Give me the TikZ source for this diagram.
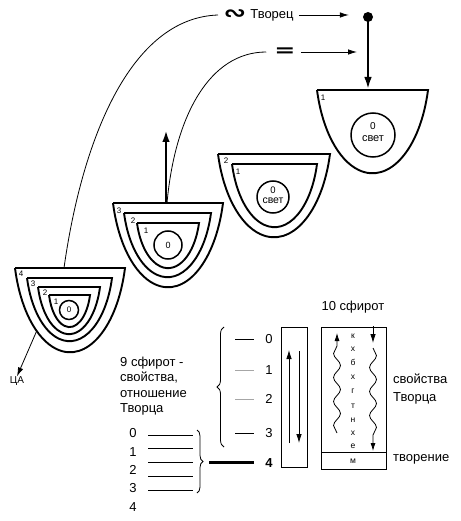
\documentclass[tikz,border=0pt]{standalone}
\usepackage{fontspec}
\setmainfont{Liberation Sans}
\newfontfamily\djv{DejaVu Sans}
\usetikzlibrary{arrows.meta,decorations.pathmorphing,decorations.pathreplacing}
% bowl: centre x, top y, half width, depth (segment of an ellipse whose centre lies a little above the rim)
\newcommand\vesselcup[4]{%
  \draw[vesselline] ({#1-#3},#2) -- ({#1+#3},#2)
    arc[start angle=-13.9,end angle=-166.1,x radius={1.0302*#3pt},y radius={1.32*#4pt}] -- cycle;}
\begin{document}
\begin{tikzpicture}[x=1pt,y=-1pt,
  vesselline/.style={line width=1.9pt, fill=white},
  core/.style={draw, line width=1.5pt, fill=white, circle, inner sep=0pt},
  thinline/.style={line width=0.8pt},
  tarrow/.style={line width=0.8pt, -{Latex[length=9pt,width=5.5pt]}},
  barrow/.style={line width=2.6pt, -{Latex[length=12pt,width=7.5pt]}},
  lbl/.style={inner sep=0pt, font=\fontsize{13}{15}\selectfont},
  num/.style={inner sep=0pt, font=\fontsize{8}{9}\selectfont},
  letter/.style={inner sep=0pt, font=\fontsize{8.5}{9}\selectfont},
  wave/.style={line width=0.8pt, decorate, decoration={snake, amplitude=3.5pt, segment length=24pt, post length=7pt}, -{Latex[length=8pt,width=5pt]}},
  tick/.style={line width=0.8pt}
]
\useasboundingbox (0,0) rectangle (460,521);

% top labels
\node[inner sep=0pt, font=\djv\bfseries\fontsize{22}{22}\selectfont] (tl) at (235,15) {\scalebox{1.2}[1]{∾}};
\node[lbl] (tv) at (272,15) {Творец};
\fill (368,17) circle (5pt);
\coordinate (dot) at (368,17);
\draw[tarrow] (tv.east) ++(5,0) -- ++(50,0) coordinate (tvend);
\node[inner sep=0pt, font=\djv\bfseries\fontsize{18}{18}\selectfont] (eq) at (285,52) {\scalebox{1.4}[1]{=}};
\coordinate (eqend) at (357,52);
\draw[tarrow] ([xshift=5pt]eq.east) -- (eqend);

\coordinate (v1top) at (368,90);
\coordinate (v3top) at (167,203);
\coordinate (v3up) at (166,130);
\coordinate (v4top) at (64,268);
\node[inner sep=0pt, font=\fontsize{10}{10}\selectfont] (ca) at (17,381) {ЦА};

% connectors behind vessels
\draw[tarrow] (218,15) .. controls (130,18) and (82,140) .. (v4top) -- (ca.north);
\draw[thinline] ([xshift=-8pt]eq.west) .. controls (210,52) and (175,115) .. (v3top);

% vessel 1
\vesselcup{372.5}{90}{55.5}{83}
\node[core, minimum size=44pt] (c1) at (373,135) {};
\node[num, font=\fontsize{10}{10}\selectfont] at (373,126) {0};
\node[num, font=\fontsize{11}{11}\selectfont] at (373,139) {свет};
\node[num] at (323,98) {1};

% vessel 2
\vesselcup{274}{154}{56}{83}
\vesselcup{274.5}{164}{42.5}{63}
\node[core, minimum size=32pt] (c2) at (273,197) {};
\node[num, font=\fontsize{9.5}{10}\selectfont] at (273,190) {0};
\node[num, font=\fontsize{10.5}{11}\selectfont] at (273,201) {свет};
\node[num] at (226,161) {2};
\node[num] at (238,172) {1};

% vessel 3
\vesselcup{168}{203}{55}{84}
\vesselcup{167.5}{213}{43.5}{64}
\vesselcup{168}{223}{31}{45}
\node[core, minimum size=28pt] (c3) at (168,245) {};
\node[num, font=\fontsize{9}{9}\selectfont] at (168,245) {0};
\node[num] at (119,211) {3};
\node[num] at (133,221) {2};
\node[num] at (146,231) {1};

% vessel 4
\vesselcup{70}{268}{55}{84}
\vesselcup{69.5}{278}{42.5}{63}
\vesselcup{69}{287}{31}{47}
\vesselcup{69.5}{295}{20.5}{32}
\node[core, minimum size=19pt] (c4) at (69,310) {};
\node[num] at (69,310) {0};
\node[num] at (21,274) {4};
\node[num] at (33,284) {3};
\node[num] at (45,293) {2};
\node[num] at (56,302) {1};

% thick arrows
\draw[line width=2.6pt, -{Latex[length=13pt,width=7.5pt]}] (dot) -- (v1top);
\draw[barrow] (v3top) ++(-1,0) -- (v3up);

% lower right
\node[lbl] (ten) at (353,307) {10 сфирот};
\draw[line width=1pt] (281,327) rectangle (307,467);
\draw[line width=1pt] (321,327) rectangle (386,469);
\draw[line width=1pt] (321,452) -- (386,452);
\draw[tarrow] (289,443) -- (289,350);
\draw[tarrow] (299,351) -- (299,443);
\draw[wave] (337,433) -- (337,333);
\draw[tarrow] (373,326) -- (373,343);
\draw[wave] (373,348) -- (373,451);
\foreach \t/\yy in {к/336,х/349,б/362,х/377,г/391,т/406,н/420,х/433,е/446,м/461}
  \node[letter] at (353,\yy) {\t};
\node[lbl, align=left, anchor=west, font=\fontsize{13}{18}\selectfont] (svt) at (393,389) {свойства\\Творца};
\node[lbl, anchor=west] (tvor) at (393,459) {творение};

\foreach \n/\yy/\c in {0/339/black,1/370/gray!70,2/399/gray!70,3/433/black}{
  \node[lbl] at (269,\yy) {\n};
  \draw[tick, \c] (235,\yy) -- (254,\yy);
}
\node[lbl, font=\bfseries\fontsize{13}{15}\selectfont] (four) at (269,463) {4};
\draw[thinline, decorate, decoration={brace, amplitude=7pt, aspect=0.5}] (224,447) -- (224,327);

% lower left
\node[lbl, align=left, anchor=west, font=\fontsize{13}{15.3}\selectfont] (nine) at (120,386) {9 сфирот -\\свойства,\\отношение\\Творца};
\foreach \n/\yy in {0/433,1/452,2/470,3/488,4/507}
  \node[lbl] at (133,\yy) {\n};
\foreach \yy in {435,448,462,476,490}
  \draw[thinline] (148,\yy) -- (193,\yy);
\draw[thinline, decorate, decoration={brace, amplitude=6pt}] (197,430) -- (197,493);
\draw[line width=3pt] (209,462) -- (254,462);
\end{tikzpicture}
\end{document}
